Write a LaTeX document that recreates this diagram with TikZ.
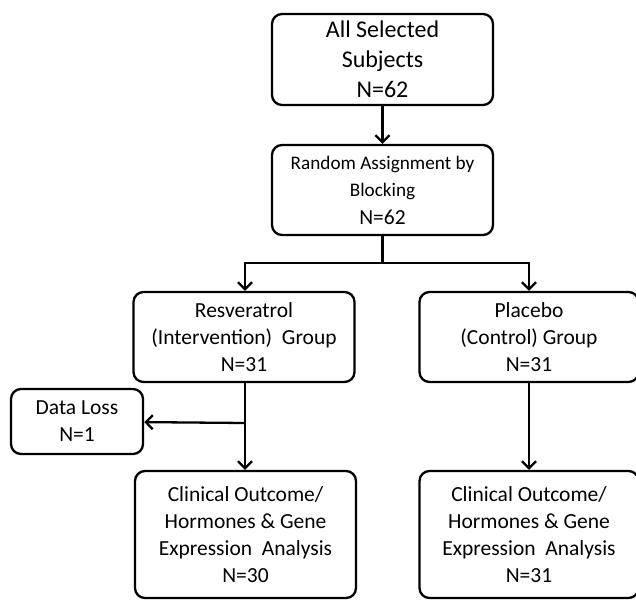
\documentclass[tikz,border=0pt]{standalone}
\usepackage{fontspec}
\setmainfont{Carlito}
\usetikzlibrary{arrows.meta}
\newcommand{\smallrand}{\fontsize{19.2}{23}\selectfont}

\begin{document}
\begin{tikzpicture}[x=1pt,y=-1pt,
    box/.style={draw,line width=2.3pt,rounded corners=10pt,align=center,
      inner sep=0pt,minimum width=221pt,minimum height=90pt,
      font=\fontsize{21.5}{27}\selectfont},
    link/.style={line width=2.3pt,-{Straight Barb[length=7pt,width=14pt]}}]
  \useasboundingbox (0,0) rectangle (636,599);
  % boxes
  \node[box,minimum height=91pt,font=\fontsize{24}{30}\selectfont]
    (sel) at (382.5,59.5) {All Selected\\Subjects\\N=62};
  \node[box] (rand) at (382.5,190)
    {\smallrand Random Assignment by\\\smallrand Blocking\\[1pt]N=62};
  \node[box] (resv) at (244,337) {Resveratrol\\(Intervention)~~Group\\N=31};
  \node[box,minimum width=219pt] (plac) at (529,337) {Placebo\\(Control) Group\\N=31};
  \node[box,minimum width=132pt,minimum height=65pt] (loss) at (77,421.5) {Data Loss\\N=1};
  \node[box,minimum height=127pt] (outl) at (245.5,534.5)
    {Clinical Outcome/\\Hormones \& Gene\\Expression~~Analysis\\N=30};
  \node[box,minimum width=219pt,minimum height=127pt] (outr) at (529,534.5)
    {Clinical Outcome/\\Hormones \& Gene\\Expression~~Analysis\\N=31};
  % connectors
  \coordinate (fork) at (382.5,263);
  \coordinate (split) at (245,423);
  \begin{scope}[link]
    \draw (sel) -- (rand);
    \draw[-] (rand) -- (fork);
    \draw (fork) -| (resv.north -| split);
    \draw (fork) -| (plac);
    \draw[-] (resv.south -| split) -- (split);
    \draw (split) -- (outl.north -| split);
    \draw (split) -- (loss);
    \draw (plac) -- (outr);
  \end{scope}
\end{tikzpicture}
\end{document}
